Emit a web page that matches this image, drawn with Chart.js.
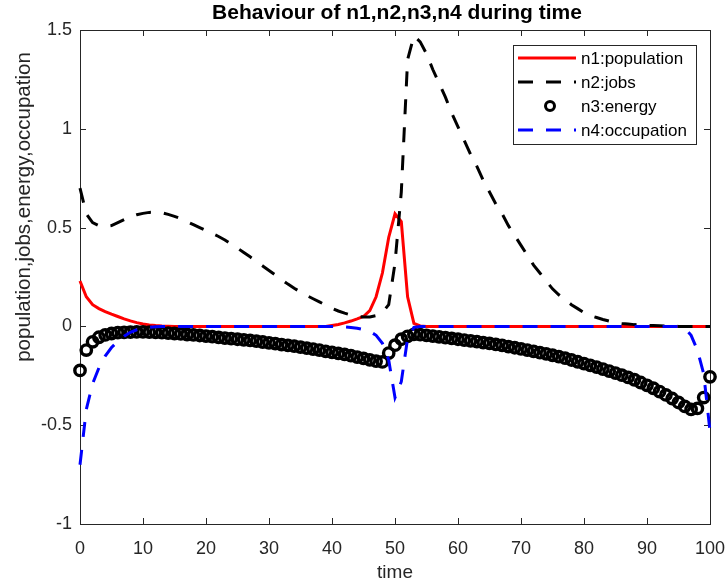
<!DOCTYPE html>
<html>
<head>
<meta charset="utf-8">
<script src="https://cdn.jsdelivr.net/npm/chart.js@4.4.1/dist/chart.umd.min.js"></script>
<style>
  html, body { margin: 0; padding: 0; background: #fff; }
  canvas { display: block; }
</style>
</head>
<body>
<canvas id="chart" width="728" height="586"></canvas>
<script>
// time steps 0..100
const time = [
  0, 1, 2, 3, 4, 5, 6, 7, 8, 9, 10, 11, 12, 13, 14, 15, 16, 17, 18, 19,
  20, 21, 22, 23, 24, 25, 26, 27, 28, 29, 30, 31, 32, 33, 34, 35, 36, 37, 38, 39,
  40, 41, 42, 43, 44, 45, 46, 47, 48, 49, 50, 51, 52, 53, 54, 55, 56, 57, 58, 59,
  60, 61, 62, 63, 64, 65, 66, 67, 68, 69, 70, 71, 72, 73, 74, 75, 76, 77, 78, 79,
  80, 81, 82, 83, 84, 85, 86, 87, 88, 89, 90, 91, 92, 93, 94, 95, 96, 97, 98, 99, 100
];

// n1: population
const population = [
  0.23, 0.15, 0.11, 0.09, 0.075, 0.062, 0.05, 0.038, 0.028, 0.019,
  0.012, 0.007, 0.004, 0.002, 0.001, 0, 0, 0, 0, 0,
  0, 0, 0, 0, 0, 0, 0, 0, 0, 0,
  0, 0, 0, 0, 0, 0, 0, 0, 0, 0,
  0.005, 0.01, 0.018, 0.027, 0.038, 0.05, 0.08, 0.15, 0.27, 0.45,
  0.57, 0.53, 0.15, 0.015, 0.002, 0, 0, 0, 0, 0,
  0, 0, 0, 0, 0, 0, 0, 0, 0, 0,
  0, 0, 0, 0, 0, 0, 0, 0, 0, 0,
  0, 0, 0, 0, 0, 0, 0, 0, 0, 0,
  0, 0, 0, 0, 0, 0, 0, 0, 0, 0,
  0
];

// n2: jobs
const jobs = [
  0.7, 0.57, 0.525, 0.51, 0.505, 0.51, 0.525, 0.54, 0.555, 0.565,
  0.572, 0.577, 0.578, 0.575, 0.567, 0.557, 0.545, 0.53, 0.515, 0.5,
  0.485, 0.47, 0.455, 0.437, 0.417, 0.396, 0.374, 0.352, 0.329, 0.306,
  0.283, 0.26, 0.237, 0.214, 0.193, 0.174, 0.156, 0.14, 0.124, 0.108,
  0.092, 0.078, 0.067, 0.058, 0.051, 0.047, 0.048, 0.055, 0.07, 0.11,
  0.32, 0.68, 1.35, 1.47, 1.44, 1.38, 1.3, 1.23, 1.16, 1.08,
  1.01, 0.94, 0.87, 0.81, 0.74, 0.68, 0.62, 0.57, 0.51, 0.46,
  0.41, 0.36, 0.31, 0.27, 0.23, 0.19, 0.16, 0.135, 0.11, 0.09,
  0.07, 0.055, 0.045, 0.035, 0.027, 0.02, 0.015, 0.012, 0.009, 0.007,
  0.005, 0.004, 0.003, 0.002, 0.001, 0, 0, 0, 0, 0,
  0
];

// n3: energy
const energy = [
  -0.223, -0.12, -0.078, -0.055, -0.043, -0.036, -0.032, -0.03, -0.029, -0.028,
  -0.028, -0.029, -0.03, -0.032, -0.034, -0.036, -0.038, -0.041, -0.043, -0.046,
  -0.049, -0.052, -0.056, -0.059, -0.062, -0.065, -0.068, -0.071, -0.075, -0.079,
  -0.083, -0.087, -0.092, -0.096, -0.1, -0.105, -0.11, -0.115, -0.12, -0.126,
  -0.131, -0.137, -0.142, -0.148, -0.155, -0.162, -0.169, -0.176, -0.18, -0.135,
  -0.095, -0.065, -0.05, -0.04, -0.042, -0.045, -0.049, -0.053, -0.057, -0.061,
  -0.065, -0.069, -0.073, -0.077, -0.082, -0.086, -0.091, -0.096, -0.102, -0.108,
  -0.114, -0.12, -0.126, -0.133, -0.139, -0.146, -0.153, -0.161, -0.17, -0.179,
  -0.188, -0.197, -0.206, -0.216, -0.226, -0.236, -0.247, -0.258, -0.27, -0.284,
  -0.298, -0.313, -0.33, -0.347, -0.365, -0.385, -0.405, -0.42, -0.415, -0.36,
  -0.255
];

// n4: occupation
const occupation = [
  -0.7, -0.42, -0.29, -0.21, -0.15, -0.107, -0.075, -0.05, -0.03, -0.017,
  -0.009, -0.004, -0.002, -0.001, 0, 0, 0, 0, 0, 0,
  0, 0, 0, 0, 0, 0, 0, 0, 0, 0,
  0, 0, 0, 0, 0, 0, 0, 0, 0, 0,
  0, 0, -0.002, -0.005, -0.009, -0.016, -0.025, -0.045, -0.085, -0.17,
  -0.36, -0.28, -0.06, -0.005, 0, 0, 0, 0, 0, 0,
  0, 0, 0, 0, 0, 0, 0, 0, 0, 0,
  0, 0, 0, 0, 0, 0, 0, 0, 0, 0,
  0, 0, 0, 0, 0, 0, 0, 0, 0, 0,
  0, 0, 0, 0, 0, 0, -0.008, -0.045, -0.12, -0.24,
  -0.53
];

const seriesNames = ["n1:population", "n2:jobs", "n3:energy", "n4:occupation"];
const xTicks = [0, 10, 20, 30, 40, 50, 60, 70, 80, 90, 100];
const yTicks = [-1, -0.5, 0, 0.5, 1, 1.5];

const AXIS = "#262626";
const FONT = "'Liberation Sans', Arial, Helvetica, sans-serif";
const DASH = [15, 13];

const pts = (ys) => time.map((t, i) => ({ x: t, y: ys[i] }));

// MATLAB-like box with inward ticks, title and axis labels
const axesBox = {
  id: "axesBox",
  beforeDatasetsDraw(chart) {
    const { ctx, chartArea: a, scales } = chart;
    ctx.save();
    ctx.strokeStyle = AXIS;
    ctx.lineWidth = 1;
    ctx.strokeRect(Math.round(a.left) + 0.5, Math.round(a.top) + 0.5,
      Math.round(a.right - a.left), Math.round(a.bottom - a.top));
    ctx.beginPath();
    xTicks.forEach(v => {
      const x = Math.round(scales.x.getPixelForValue(v)) + 0.5;
      ctx.moveTo(x, a.bottom); ctx.lineTo(x, a.bottom - 6);
      ctx.moveTo(x, a.top); ctx.lineTo(x, a.top + 6);
    });
    yTicks.forEach(v => {
      const y = Math.round(scales.y.getPixelForValue(v)) + 0.5;
      ctx.moveTo(a.left, y); ctx.lineTo(a.left + 6, y);
      ctx.moveTo(a.right, y); ctx.lineTo(a.right - 6, y);
    });
    ctx.stroke();
    ctx.restore();
  },
  afterDraw(chart) {
    const { ctx, chartArea: a } = chart;
    ctx.save();
    ctx.fillStyle = "#000";
    ctx.textAlign = "center";
    ctx.textBaseline = "middle";
    ctx.font = "bold 21px " + FONT;
    ctx.fillText("Behaviour of n1,n2,n3,n4 during time", (a.left + a.right) / 2 + 2, 13);
    ctx.fillStyle = AXIS;
    ctx.font = "19px " + FONT;
    ctx.fillText("time", (a.left + a.right) / 2, 573);
    ctx.font = "20.5px " + FONT;
    ctx.translate(24, 207);
    ctx.rotate(-Math.PI / 2);
    ctx.fillText("population,jobs,energy,occupation", 0, 0);
    ctx.restore();
  }
};

// legend box in the top right corner
const boxLegend = {
  id: "boxLegend",
  afterDraw(chart) {
    const ctx = chart.ctx;
    const x0 = 513, y0 = 45, w = 183, h = 99;
    ctx.save();
    ctx.fillStyle = "#fff";
    ctx.fillRect(x0, y0, w, h);
    ctx.strokeStyle = AXIS;
    ctx.lineWidth = 1;
    ctx.strokeRect(x0 + 0.5, y0 + 0.5, w, h);
    ctx.font = "17px " + FONT;
    ctx.textBaseline = "middle";
    ctx.textAlign = "left";
    chart.data.datasets.forEach((ds, i) => {
      const y = y0 + 13 + i * 24;
      if (ds.showLine === false) {
        ctx.beginPath();
        ctx.setLineDash([]);
        ctx.lineWidth = 3;
        ctx.strokeStyle = ds.pointBorderColor;
        ctx.arc(550, y, 4.5, 0, Math.PI * 2);
        ctx.stroke();
      } else {
        ctx.beginPath();
        ctx.setLineDash(ds.borderDash || []);
        ctx.lineWidth = ds.borderWidth;
        ctx.strokeStyle = ds.borderColor;
        ctx.moveTo(518, y);
        ctx.lineTo(576, y);
        ctx.stroke();
      }
      ctx.setLineDash([]);
      ctx.fillStyle = "#000";
      ctx.fillText(ds.label, 581, y + 1);
    });
    ctx.restore();
  }
};

new Chart(document.getElementById("chart"), {
  type: "scatter",
  data: {
    datasets: [
      {
        label: seriesNames[0], data: pts(population), showLine: true,
        borderColor: "#ff0000", borderWidth: 3, pointRadius: 0, tension: 0,
        order: 3, clip: false
      },
      {
        label: seriesNames[1], data: pts(jobs), showLine: true,
        borderColor: "#000000", borderWidth: 3, borderDash: DASH, pointRadius: 0,
        tension: 0, order: 2, clip: false
      },
      {
        label: seriesNames[2], data: pts(energy), showLine: false,
        pointRadius: 5.2, pointBorderWidth: 3.4, pointBorderColor: "#000000",
        pointBackgroundColor: "rgba(0,0,0,0)", pointStyle: "circle",
        order: 1, clip: false
      },
      {
        label: seriesNames[3], data: pts(occupation), showLine: true,
        borderColor: "#0000ff", borderWidth: 3, borderDash: DASH, pointRadius: 0,
        tension: 0, order: 0, clip: false
      }
    ]
  },
  options: {
    responsive: false,
    animation: false,
    devicePixelRatio: 1,
    layout: { padding: { left: 0, right: 18, top: 30, bottom: 0 } },
    plugins: { legend: { display: false }, tooltip: { enabled: false }, title: { display: false } },
    scales: {
      x: {
        type: "linear", min: 0, max: 100,
        afterFit: (s) => { s.height = 62; s.paddingLeft = 0; s.paddingRight = 0; },
        afterBuildTicks: (s) => { s.ticks = xTicks.map(v => ({ value: v })); },
        grid: { display: false, drawTicks: false },
        border: { display: false },
        ticks: {
          color: AXIS, font: { family: FONT, size: 18 }, padding: 14,
          maxRotation: 0, autoSkip: false, callback: (v) => String(v)
        }
      },
      y: {
        type: "linear", min: -1, max: 1.5,
        afterFit: (s) => { s.width = 80; s.paddingTop = 0; s.paddingBottom = 0; },
        afterBuildTicks: (s) => { s.ticks = yTicks.map(v => ({ value: v })); },
        grid: { display: false, drawTicks: false },
        border: { display: false },
        ticks: {
          color: AXIS, font: { family: FONT, size: 18 }, padding: 8,
          autoSkip: false, callback: (v) => String(v)
        }
      }
    }
  },
  plugins: [axesBox, boxLegend]
});
</script>
</body>
</html>
